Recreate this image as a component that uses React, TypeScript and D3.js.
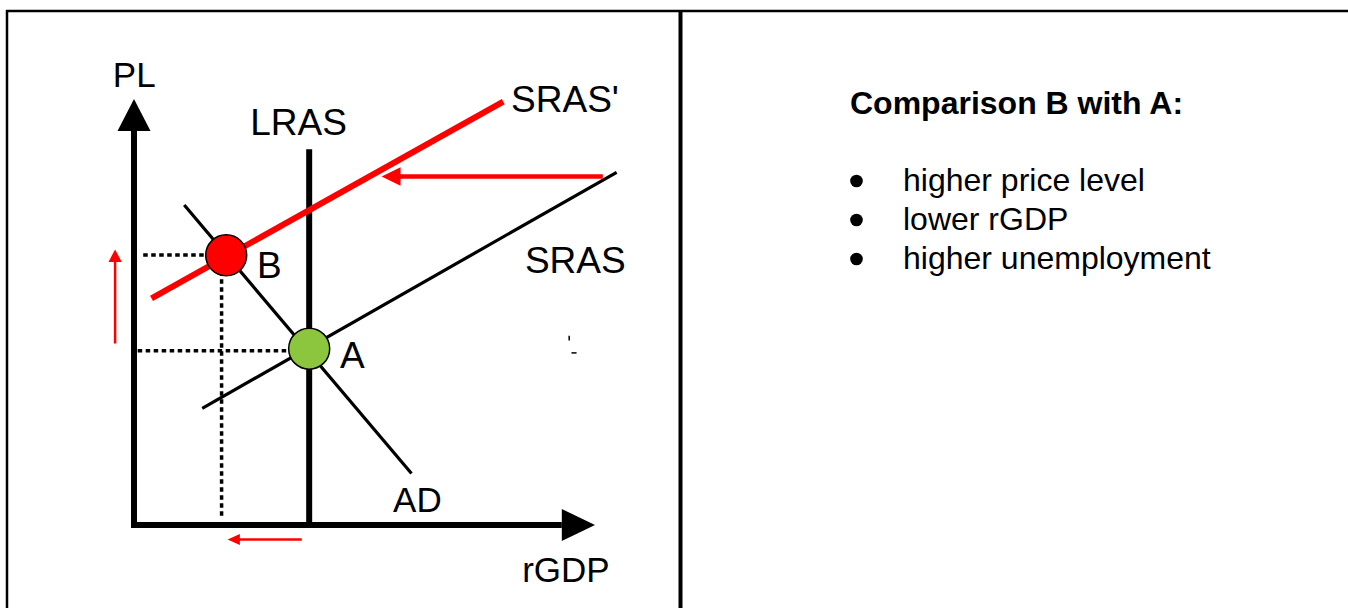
import * as d3 from "d3";

const W = 1348;
const H = 608;
const FONT = "'Liberation Sans', Arial, Helvetica, sans-serif";

// curves in chart units: rGDP on x, PL on y, both 0..100 up to the arrow tips
const LRAS: [number, number][] = [[38, 0], [38, 88.2]];
const SRAS: [number, number][] = [[14.8, 27.4], [104.7, 82.8]];
const SRAS_SHIFTED: [number, number][] = [[3.8, 53.2], [80.1, 99.4]];
const AD: [number, number][] = [[10.9, 75.1], [60.2, 12.1]];

const POINTS = [
  { name: "A", rgdp: 38, pl: 41.4, fill: "#8cc63f" },
  { name: "B", rgdp: 20, pl: 63.3, fill: "#ff0000" },
];

// dotted guides to the axes
const GUIDES: [number, number][][] = [
  [[0.8, 40.9], [38, 40.9]],
  [[2.0, 63.4], [20, 63.4]],
  [[19, 63.3], [19, 1.5]],
];

// red shift arrows: from -> to, with stroke width and head [length, half width]
const SHIFTS = [
  { from: [101.7, 81.8], to: [53.7, 81.8], w: 4.5, head: [19, 9.3] },
  { from: [-4.1, 42.6], to: [-4.1, 64.7], w: 2.5, head: [12.5, 6.6] },
  { from: [36.4, -3.4], to: [20.3, -3.4], w: 2.5, head: [12.3, 5.6] },
];

const LABELS = [
  { text: "PL", rgdp: -4.6, pl: 102.8, size: 35 },
  { text: "LRAS", rgdp: 25.2, pl: 91.5, size: 37 },
  { text: "SRAS'", rgdp: 81.8, pl: 96.9, size: 37 },
  { text: "SRAS", rgdp: 84.8, pl: 59.2, size: 37 },
  { text: "B", rgdp: 26.7, pl: 58.0, size: 37 },
  { text: "A", rgdp: 44.7, pl: 36.9, size: 37 },
  { text: "AD", rgdp: 56.2, pl: 3.1, size: 35 },
  { text: "rGDP", rgdp: 84.2, pl: -13.4, size: 35 },
];

// small stray marks in the original picture
const SPECKS: [number, number][][] = [
  [[94.4, 44.4], [94.4, 43.3]],
  [[94.9, 40.4], [96.0, 40.4]],
];

const SUMMARY_TITLE = "Comparison B with A:";
const SUMMARY_ITEMS = ["higher price level", "lower rGDP", "higher unemployment"];

function head(tip: [number, number], from: [number, number], len: number, hw: number) {
  const dx = tip[0] - from[0];
  const dy = tip[1] - from[1];
  const d = Math.hypot(dx, dy) || 1;
  const ux = dx / d;
  const uy = dy / d;
  const bx = tip[0] - ux * len;
  const by = tip[1] - uy * len;
  return [
    [tip[0], tip[1]],
    [bx - uy * hw, by + ux * hw],
    [bx + uy * hw, by - ux * hw],
  ]
    .map((p) => p.join(","))
    .join(" ");
}

export default function App() {
  const x = d3.scaleLinear().domain([0, 100]).range([134, 595]);
  const y = d3.scaleLinear().domain([0, 100]).range([525, 99]);
  const line = d3
    .line<[number, number]>()
    .x((d) => x(d[0]))
    .y((d) => y(d[1]));

  const yBase = 92.5;
  const xBase = 92.8;

  return (
    <svg
      width={W}
      height={H}
      style={{ position: "absolute", left: 0, top: 0, background: "#fff" }}
      fontFamily={FONT}
    >
      <rect width={W} height={H} fill="#fff" />

      {/* frame */}
      <line x1={6} x2={W} y1={11} y2={11} stroke="#000" strokeWidth={2.3} />
      <line x1={7} x2={7} y1={10} y2={H} stroke="#000" strokeWidth={2.5} />
      <line x1={680.5} x2={680.5} y1={10} y2={H} stroke="#000" strokeWidth={4} />

      {/* axes */}
      <line x1={x(0)} x2={x(0)} y1={y(0) + 3} y2={y(yBase)} stroke="#000" strokeWidth={6} />
      <polygon points={head([x(0), y(100)], [x(0), y(0)], y(yBase) - y(100), 16.5)} fill="#000" />
      <line x1={x(0) - 3} x2={x(xBase)} y1={y(0)} y2={y(0)} stroke="#000" strokeWidth={6} />
      <polygon points={head([x(100), y(0)], [x(0), y(0)], x(100) - x(xBase), 16)} fill="#000" />

      {/* dotted guides */}
      {GUIDES.map((g, i) => (
        <path
          key={i}
          d={line(g) ?? ""}
          stroke="#000"
          strokeWidth={3.5}
          strokeDasharray="4.5,3.5"
          fill="none"
        />
      ))}

      {/* curves */}
      <path d={line(LRAS) ?? ""} stroke="#000" strokeWidth={6} fill="none" />
      <path d={line(SRAS) ?? ""} stroke="#000" strokeWidth={3.2} fill="none" />
      <path d={line(AD) ?? ""} stroke="#000" strokeWidth={3.2} fill="none" />
      <path d={line(SRAS_SHIFTED) ?? ""} stroke="#ff0000" strokeWidth={6} fill="none" />

      {SPECKS.map((s, i) => (
        <path key={i} d={line(s) ?? ""} stroke="#000" strokeWidth={1.5} fill="none" />
      ))}

      {/* shift arrows */}
      {SHIFTS.map((s, i) => {
        const from: [number, number] = [x(s.from[0]), y(s.from[1])];
        const to: [number, number] = [x(s.to[0]), y(s.to[1])];
        const dx = to[0] - from[0];
        const dy = to[1] - from[1];
        const d = Math.hypot(dx, dy);
        const end: [number, number] = [
          to[0] - (dx / d) * s.head[0] * 0.8,
          to[1] - (dy / d) * s.head[0] * 0.8,
        ];
        return (
          <g key={i}>
            <line x1={from[0]} y1={from[1]} x2={end[0]} y2={end[1]} stroke="#ff0000" strokeWidth={s.w} />
            <polygon points={head(to, from, s.head[0], s.head[1])} fill="#ff0000" />
          </g>
        );
      })}

      {/* equilibria */}
      {POINTS.map((p) => (
        <circle
          key={p.name}
          cx={x(p.rgdp)}
          cy={y(p.pl)}
          r={20.5}
          fill={p.fill}
          stroke="#000"
          strokeWidth={1.5}
        />
      ))}

      {LABELS.map((l) => (
        <text key={l.text} x={x(l.rgdp)} y={y(l.pl)} fontSize={l.size} fill="#000">
          {l.text}
        </text>
      ))}

      {/* summary panel */}
      <text x={850} y={114} fontSize={32} fontWeight="bold" fill="#000">
        {SUMMARY_TITLE}
      </text>
      {SUMMARY_ITEMS.map((t, i) => {
        const by = 191 + i * 39;
        return (
          <g key={t}>
            <circle cx={856.5} cy={by - 10} r={6.3} fill="#000" />
            <text x={903} y={by} fontSize={32} fill="#000">
              {t}
            </text>
          </g>
        );
      })}
    </svg>
  );
}
